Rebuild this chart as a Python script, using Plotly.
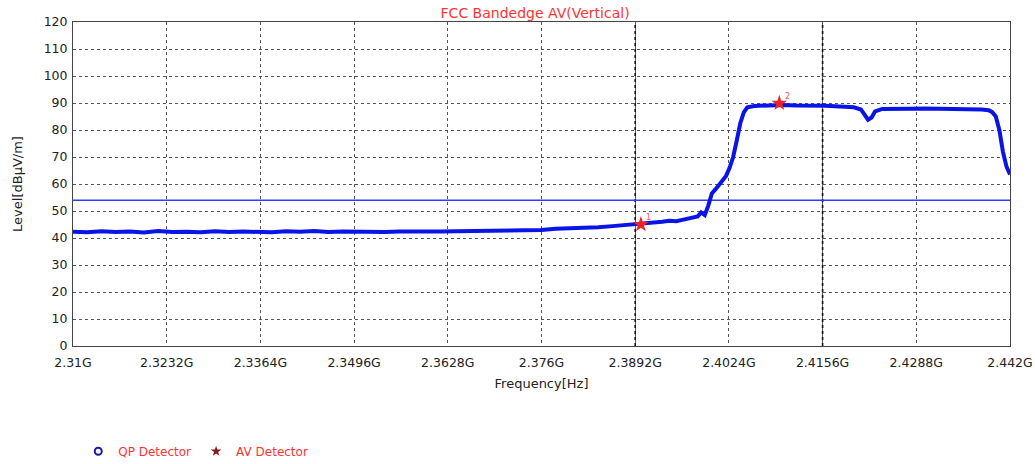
import plotly.graph_objects as go

# ---- data (GHz, dBuV/m) ----
freq_ghz = [
    2.310, 2.312, 2.314, 2.316, 2.318, 2.320, 2.322, 2.324, 2.326, 2.328,
    2.330, 2.332, 2.334, 2.336, 2.338, 2.340, 2.342, 2.344, 2.346, 2.348,
    2.350, 2.352, 2.354, 2.356, 2.358, 2.360, 2.362, 2.364, 2.366, 2.368,
    2.370, 2.372, 2.374, 2.376, 2.378, 2.380, 2.382, 2.384, 2.386, 2.388,
    2.389, 2.390, 2.391, 2.392, 2.393, 2.394, 2.395, 2.396, 2.397, 2.398,
    2.3985, 2.399, 2.3995, 2.400, 2.4005, 2.401, 2.4015, 2.402, 2.4025, 2.403,
    2.4035, 2.404, 2.4045, 2.405, 2.406, 2.408, 2.410, 2.412, 2.414, 2.416,
    2.418, 2.420, 2.421, 2.4215, 2.422, 2.4225, 2.423, 2.424, 2.426, 2.428,
    2.430, 2.432, 2.434, 2.436, 2.438, 2.439, 2.4395, 2.440, 2.4405, 2.441,
    2.4415, 2.442,
]
level_dbuv = [
    42.3, 42.1, 42.5, 42.2, 42.4, 42.0, 42.6, 42.2, 42.3, 42.1,
    42.5, 42.2, 42.4, 42.3, 42.1, 42.5, 42.3, 42.6, 42.2, 42.4,
    42.3, 42.5, 42.2, 42.4, 42.3, 42.2, 42.4, 42.5, 42.6, 42.5,
    42.8, 42.9, 43.1, 43.0, 43.4, 43.5, 43.8, 44.0, 44.4, 44.8,
    45.0, 45.2, 45.4, 45.6, 46.0, 46.4, 46.2, 46.8, 47.3, 48.0,
    49.5, 48.5, 52.0, 56.5, 58.0, 59.5, 61.0, 63.0, 66.0, 70.0,
    76.0, 82.5, 86.5, 88.4, 88.9, 89.2, 89.3, 89.1, 89.2, 89.0,
    88.7, 88.4, 87.6, 85.8, 83.8, 84.6, 86.9, 87.8, 88.0, 87.9,
    88.0, 87.8, 87.8, 87.7, 87.6, 87.3, 86.6, 85.0, 80.0, 72.0,
    66.5, 63.5,
]

marker_freq = [2.3900, 2.4095]
marker_level = [45.0, 89.9]
marker_labels = ["1", "2"]

limit_level = 54

tick_vals = [2.31, 2.3232, 2.3364, 2.3496, 2.3628, 2.376, 2.3892, 2.4024, 2.4156, 2.4288, 2.442]
tick_text = ["2.31G", "2.3232G", "2.3364G", "2.3496G", "2.3628G", "2.376G", "2.3892G",
             "2.4024G", "2.4156G", "2.4288G", "2.442G"]
bold_grid_freqs = [2.3892, 2.4156]

FONT = "DejaVu Sans, Verdana, sans-serif"

fig = go.Figure()

# limit line
fig.add_trace(go.Scatter(
    x=[tick_vals[0], tick_vals[-1]], y=[limit_level, limit_level],
    mode="lines", line=dict(color="#2f3cff", width=1.5),
    showlegend=False, hoverinfo="skip"))

# measured trace
fig.add_trace(go.Scatter(
    x=freq_ghz, y=level_dbuv, mode="lines",
    line=dict(color="#0a14e6", width=4),
    showlegend=False))

# markers
fig.add_trace(go.Scatter(
    x=marker_freq, y=marker_level, mode="markers",
    marker=dict(symbol="star", size=12, color="#ee2222"),
    showlegend=False))

# legend entries
fig.add_trace(go.Scatter(
    x=[None], y=[None], mode="markers", name="QP Detector",
    marker=dict(symbol="circle-open", size=7, color="#1a1aa8", line=dict(width=2))))
fig.add_trace(go.Scatter(
    x=[None], y=[None], mode="markers", name="AV Detector",
    marker=dict(symbol="star", size=8, color="#8b1a1a")))

for f, lv, lab in zip(marker_freq, marker_level, marker_labels):
    fig.add_annotation(x=f, y=lv, text=lab, showarrow=False,
                       xshift=8, yshift=7, font=dict(size=8, color="#ff5555", family=FONT))

for f in bold_grid_freqs:
    fig.add_shape(type="line", x0=f, x1=f, y0=0, y1=120, xref="x", yref="y",
                  line=dict(color="#111111", width=1.6, dash="dot"), layer="below")

fig.update_layout(
    width=1035, height=464,
    margin=dict(l=73, r=25, t=22, b=118, autoexpand=False),
    paper_bgcolor="white", plot_bgcolor="white",
    font=dict(family=FONT, size=12, color="#222222"),
    title=dict(text="FCC Bandedge AV(Vertical)", x=0.517, xanchor="center",
               y=0.972, yanchor="middle",
               font=dict(size=14, color="#ff3333", family=FONT)),
    showlegend=True,
    legend=dict(orientation="h", x=0.0056, y=-0.325, xanchor="left", yanchor="middle",
                font=dict(size=12, color="#ff3333", family=FONT),
                bgcolor="rgba(0,0,0,0)", itemwidth=30),
)

fig.update_xaxes(
    range=[tick_vals[0], tick_vals[-1]], tickvals=tick_vals, ticktext=tick_text,
    showgrid=True, gridcolor="#555555", griddash="dot", gridwidth=1,
    showline=True, linecolor="#444444", linewidth=1, mirror=True,
    ticks="outside", ticklen=5, tickcolor="rgba(0,0,0,0)", zeroline=False,
    automargin=False,
    title=dict(text="Frequency[Hz]", font=dict(size=13, family=FONT, color="#222222"), standoff=9),
    tickfont=dict(size=12.5, family=FONT, color="#222222"))

fig.update_yaxes(
    range=[0, 120], dtick=10,
    showgrid=True, gridcolor="#555555", griddash="dot", gridwidth=1,
    showline=True, linecolor="#444444", linewidth=1, mirror=True,
    ticks="outside", ticklen=2, tickcolor="rgba(0,0,0,0)", zeroline=False,
    automargin=False,
    title=dict(text="Level[dBµV/m]", font=dict(size=13, family=FONT, color="#222222"), standoff=18),
    tickfont=dict(size=12.5, family=FONT, color="#222222"))

fig.write_html("out.html", config={"displayModeBar": False},
               post_script="document.body.style.margin='0';")
